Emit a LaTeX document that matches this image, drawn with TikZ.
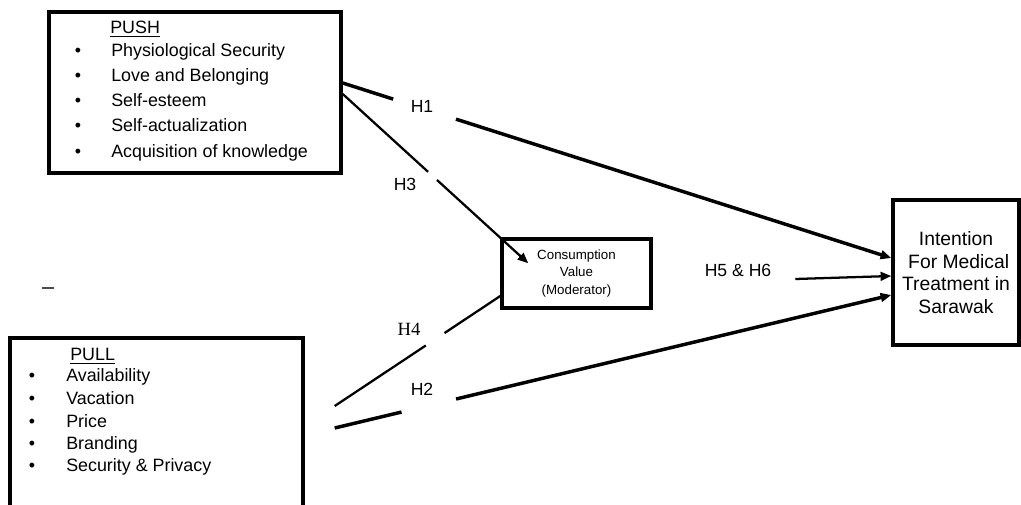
\documentclass[tikz,border=0pt]{standalone}
\usepackage{fontspec}
\setmainfont{Liberation Sans}
\newfontfamily\seriffont{Liberation Serif}
\usetikzlibrary{arrows.meta,calc}
\begin{document}
\begin{tikzpicture}[x=0.75pt,y=-0.75pt,
  box/.style={draw, line width=2.6pt, inner sep=0pt},
  txt/.style={inner sep=0pt, text height=0.72em, text depth=0pt, font=\fontsize{13.4}{16}\selectfont},
  hlab/.style={inner sep=0pt, text height=0.72em, text depth=0pt, font=\fontsize{13.2}{16}\selectfont},
  thickline/.style={line width=2.6pt},
  thinline/.style={line width=1.7pt},
  arr/.style={-{Triangle[length=8pt,width=6.5pt]}}
]
\useasboundingbox (0,0) rectangle (1021,504);
% boxes
\node[box, minimum width=219pt, minimum height=120.75pt] (push) at (195,92.5) {};
\node[box, minimum width=219.75pt, minimum height=136.5pt] (pull) at (156.5,429) {};
\node[box, minimum width=111.75pt, minimum height=51.75pt, align=center,
      font=\fontsize{10}{13.2}\selectfont] (cons) at (576.5,273.5) {Consumption\\Value\\(Moderator)};
\node[box, minimum width=94.5pt, minimum height=108.75pt, align=center,
      font=\fontsize{14.5}{17}\selectfont] (intent) at (956,272.5) {Intention\\\ For Medical\\Treatment in\\Sarawak};
% PUSH text
\node[txt, anchor=west] (pusht) at (110,29) {\underline{PUSH}};
\foreach \y/\t [count=\i] in {52/Physiological Security,77/Love and Belonging,102/Self-esteem,127/Self-actualization,153/Acquisition of knowledge}{
  \node[txt] (pushb\i) at (78,\y) {•};
  \node[txt, anchor=west] (pushi\i) at (111,\y) {\t};
}
% PULL text
\node[txt, anchor=west] (pullt) at (70,356) {\underline{PULL}};
\foreach \y/\t [count=\i] in {377/Availability,400/Vacation,423/Price,445/Branding,467/Security \& Privacy}{
  \node[txt] (pullb\i) at (32,\y) {•};
  \node[txt, anchor=west] (pulli\i) at (66,\y) {\t};
}
% dash
\draw[line width=1.5pt, black!70] (42,288) coordinate (dsa) -- (54,288) coordinate (dsb);
% connector end points
\coordinate (h1s) at ($(push.east)+(0,-9.5)$);
\coordinate (h1e) at ($(intent.west)+(0,-14.5)$);
\coordinate (h3s) at ($(push.east)+(0,1.5)$);
\coordinate (h3e) at ($(cons.north west)+(28,26)$);
\coordinate (h4s) at ($(pull.east)+(30,-23)$);
\coordinate (h4e) at ($(cons.west)+(0,22.5)$);
\coordinate (h2s) at ($(pull.east)+(30,-1)$);
\coordinate (h2e) at ($(intent.west)+(0,22.5)$);
\coordinate (h5s) at ($(intent.west)+(-96,6.5)$);
\coordinate (h5e) at ($(intent.west)+(0,3.5)$);
% H1
\draw[thickline] (h1s) -- ($(h1s)!0.092!(h1e)$);
\draw[thickline, arr] ($(h1s)!0.2065!(h1e)$) -- (h1e);
% H3
\draw[thinline] (h3s) -- ($(h3s)!0.46!(h3e)$);
\draw[thinline, arr] ($(h3s)!0.508!(h3e)$) -- (h3e);
% H4
\draw[thinline] (h4s) -- ($(h4s)!0.55!(h4e)$);
\draw[thinline] ($(h4s)!0.663!(h4e)$) -- (h4e);
% H2
\draw[thickline] (h2s) -- ($(h2s)!0.12!(h2e)$);
\draw[thickline, arr] ($(h2s)!0.218!(h2e)$) -- (h2e);
% H5 & H6
\draw[thinline, arr] (h5s) -- (h5e);
% labels
\node[hlab] (l1) at (422,108) {H1};
\node[hlab] (l3) at (405,186) {H3};
\node[inner sep=0pt, text height=0.66em, text depth=0pt, font=\seriffont\fontsize{14}{16}\selectfont] (l4) at (409,331) {H4};
\node[hlab] (l2) at (422,391) {H2};
\node[hlab] (l5) at (738,272) {H5 \& H6};
\end{tikzpicture}
\end{document}
